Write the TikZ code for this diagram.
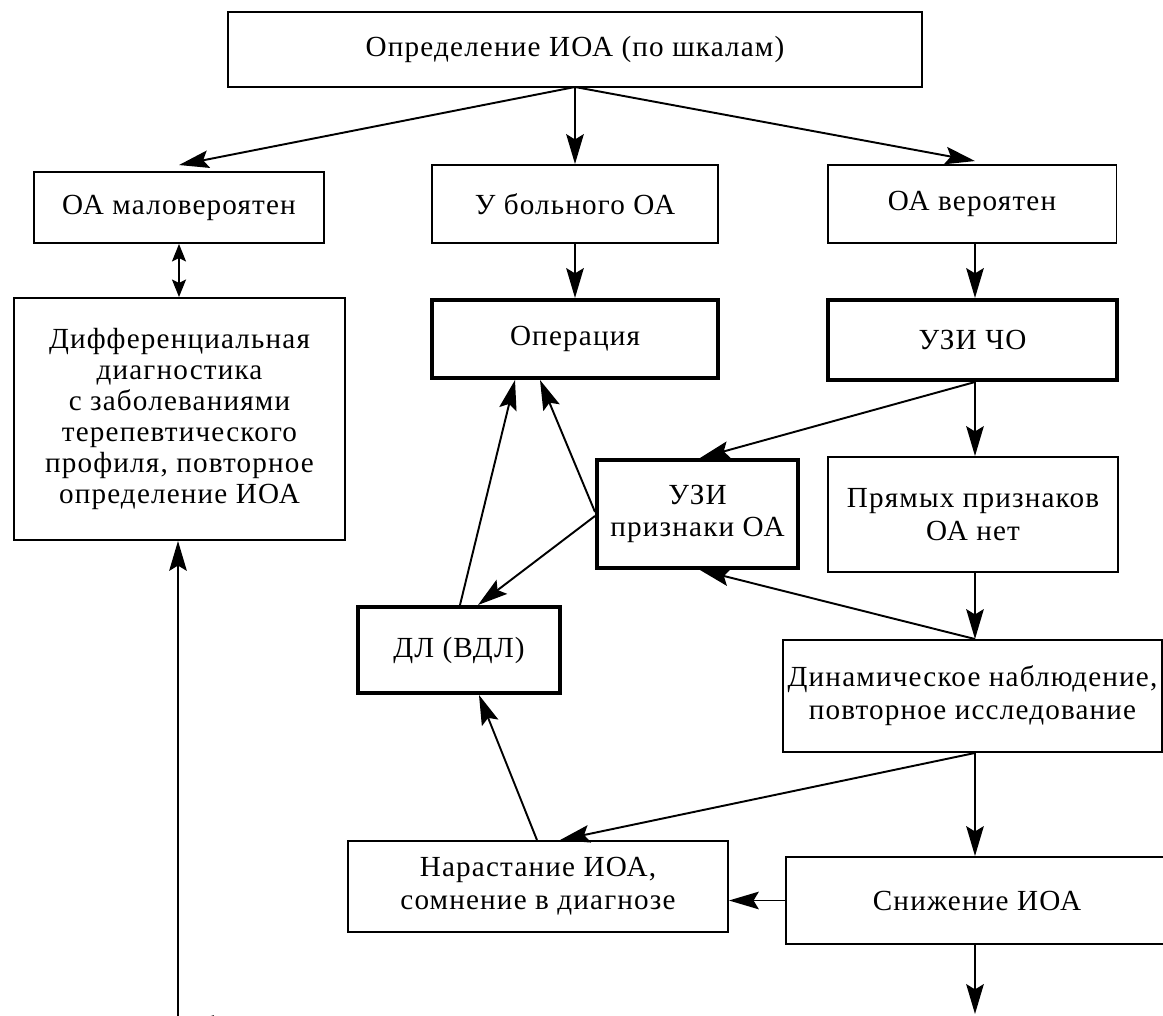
\documentclass[tikz,border=0pt]{standalone}
\usepackage{fontspec}
\setmainfont[LetterSpace=4]{Liberation Serif}
\usepackage{tikz}
\usetikzlibrary{positioning, arrows.meta, calc}
\tikzset{
    box/.style={
        draw=black,
        line width=1.1pt,
        align=center,
        inner sep=0pt,
        font=\fontsize{16.6}{18.7}\selectfont
    },
    boldbox/.style={
        box,
        line width=2.3pt
    },
    arr/.style={
        line width=1.1pt,
        -{Stealth[length=17pt,width=10pt,inset=3pt]}
    },
    dblarr/.style={
        line width=1.1pt,
        {Stealth[length=10pt,width=8pt,inset=2pt]}-{Stealth[length=10pt,width=8pt,inset=2pt]}
    }
}

\begin{document}
\begin{tikzpicture}[x=0.02cm, y=-0.02cm]

\useasboundingbox (0,0) rectangle (1163,1016);
\clip (0,0) rectangle (1163,1016);

%---------------- Top ----------------

\node[box, minimum width=13.9cm, minimum height=1.5cm] (scale) at (575,49.5) {Определение ИОА (по шкалам)};

\node[box, minimum width=5.8cm, minimum height=1.42cm] (unlikely) at (179,207.5) {ОА маловероятен};
\node[box, minimum width=5.72cm, minimum height=1.56cm] (ill) at (575,204) {У больного ОА};
\node[box, minimum width=5.78cm, minimum height=1.56cm] (likely) at (972,204) {ОА вероятен};

\coordinate (hub) at (575,87);

\draw[arr] (hub) -- ($(unlikely.north)+(0,-6)$);
\draw[arr] (hub) -- (ill.north);
\draw[arr] (hub) -- ($(likely.north)+(3,-3)$);

%---------------- Left column ----------------

\node[box, minimum width=6.62cm, minimum height=4.84cm,
      font=\fontsize{16.6}{17.7}\selectfont] (diff) at (179.5,419) {Дифференциальная\\диагностика\\с заболеваниями\\терепевтического\\профиля, повторное\\определение ИОА};

\draw[dblarr] (unlikely.south) -- (unlikely.south |- diff.north);

\coordinate (low) at (178,1040);
\coordinate (lowright) at (320,1024);
\coordinate (lowtip) at (184,1024);

\draw[arr] (low) -- (low |- diff.south);
\draw[arr] (lowright) -- (lowtip);

%---------------- Middle column ----------------

\node[boldbox, minimum width=5.72cm, minimum height=1.56cm] (oper) at (575,339) {Операция};
\node[boldbox, minimum width=4.02cm, minimum height=2.16cm] (uzisign) at (697.5,514) {УЗИ\\признаки ОА};
\node[boldbox, minimum width=4.04cm, minimum height=1.72cm] (dl) at (459,650) {ДЛ (ВДЛ)};
\node[box, minimum width=7.6cm, minimum height=1.82cm] (rise) at (538,886.5) {Нарастание ИОА,\\сомнение в диагнозе};

\draw[arr] (ill.south) -- (oper.north);
\draw[arr] ($(uzisign.west)+(0,-2)$) -- ($(oper.south)+(-35,0)$);
\draw[arr] ($(uzisign.west)+(0,2)$) -- ($(dl.north)+(19,0)$);
\draw[arr] ($(dl.north)+(1,0)$) -- ($(oper.south)+(-60,0)$);
\draw[arr] ($(rise.north)+(-1,0)$) -- ($(dl.south)+(20,0)$);

%---------------- Right column ----------------

\node[boldbox, minimum width=5.78cm, minimum height=1.6cm] (uzico) at (972.5,340) {УЗИ ЧО};
\node[box, minimum width=5.8cm, minimum height=2.3cm] (nosign) at (973,514.5) {Прямых признаков\\ОА нет};
\node[box, minimum width=7.58cm, minimum height=2.24cm] (dyn) at (972.5,696) {Динамическое наблюдение,\\повторное исследование};
\node[box, minimum width=7.64cm, minimum height=1.74cm] (fall) at (977,900.5) {Снижение ИОА};

\coordinate (fallend) at (975,1014);

\draw[arr] (likely.south -| fallend) -- (uzico.north -| fallend);
\draw[arr] ($(uzico.south)+(2.5,0)$) -- ($(uzisign.north)+(2.5,0)$);
\draw[arr] ($(uzico.south)+(2.5,0)$) -- ($(nosign.north)+(2,0)$);
\draw[arr] ($(nosign.south)+(2,0)$) -- ($(dyn.north)+(2.5,0)$);
\draw[arr] ($(dyn.north)+(2.5,0)$) -- ($(uzisign.south)+(2.5,0)$);
\draw[arr] ($(dyn.south)+(2.5,0)$) -- ($(rise.north)+(22,0)$);
\draw[arr] ($(dyn.south)+(2.5,0)$) -- (fall.north -| fallend);
\draw[arr] (fall.west) -- (rise.east |- fall.west);
\draw[arr] (fall.south -| fallend) -- (fallend);

\end{tikzpicture}
\end{document}
